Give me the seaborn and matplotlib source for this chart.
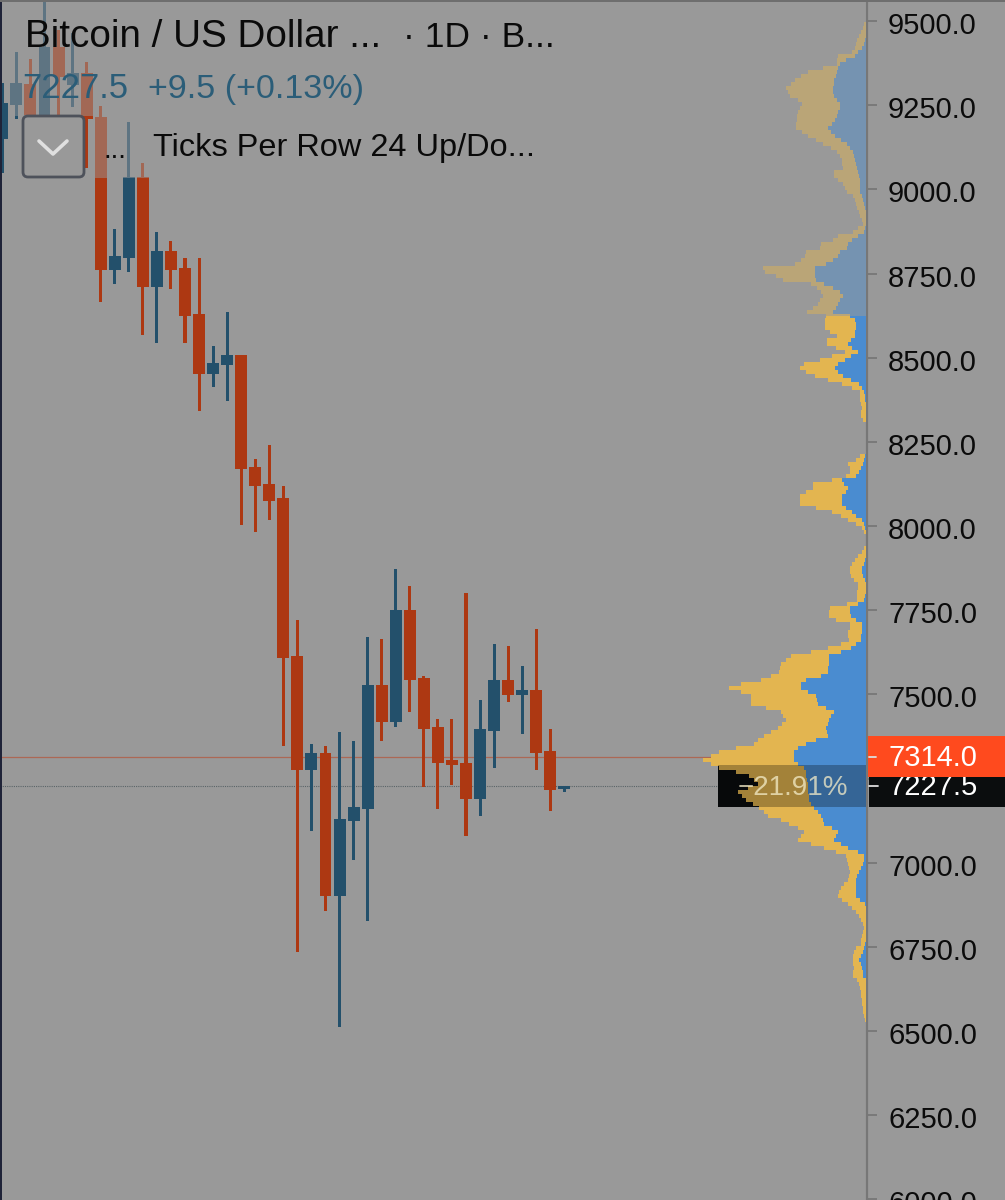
import numpy as np
import pandas as pd
import seaborn as sns
import matplotlib.pyplot as plt
from matplotlib.patches import FancyBboxPatch, Rectangle
from matplotlib.transforms import ScaledTranslation

# daily candles, first one is cut by the left edge
opens = [9150, 9251, 9313, 9221, 9424, 9310, 9346, 9215, 8760, 8796, 9037, 8710, 8816, 8766, 8630, 8451, 8478, 8508, 8176, 8125, 8083,
         7614, 7276, 7325, 6901, 7124, 7160, 7528, 7418, 7751, 7549, 7403, 7305, 7297, 7190, 7391, 7543, 7498, 7513, 7331, 7218]
highs = [9316, 9409, 9388, 9562, 9474, 9465, 9379, 9248, 8882, 9200, 9078, 8873, 8846, 8796, 8796, 8535, 8636, 8508, 8199, 8241, 8119,
         7721, 7352, 7346, 7388, 7361, 7671, 7665, 7873, 7822, 7555, 7427, 7427, 7802, 7483, 7650, 7644, 7584, 7694, 7397, 7227.5]
lows = [9049, 9209, 9221, 9221, 9221, 9245, 9063, 8666, 8719, 8755, 8567, 8544, 8704, 8544, 8341, 8413, 8371, 8003, 7982, 8018, 7346,
        6735, 7094, 6857, 6512, 7008, 6826, 7361, 7403, 7448, 7225, 7160, 7231, 7080, 7139, 7282, 7477, 7382, 7276, 7154, 7211]
closes = [9256, 9316, 9221, 9424, 9334, 9346, 9209, 8760, 8802, 9037, 8710, 8816, 8760, 8624, 8451, 8484, 8508, 8170, 8119, 8074, 7608,
          7276, 7325, 6901, 7130, 7166, 7528, 7418, 7751, 7543, 7397, 7297, 7291, 7190, 7397, 7543, 7498, 7513, 7325, 7216, 7227.5]

# volume profile, top row first (arbitrary units)
vp_total = [2, 3, 5, 7, 9, 10, 11, 14, 28, 29,
            29, 43, 58, 65, 71, 75, 80, 78, 76, 68,
            64, 66, 68, 69, 69, 70, 70, 64, 58, 50,
            43, 35, 29, 26, 24, 24, 23, 32, 32, 28,
            23, 21, 19, 13, 11, 10, 9, 7, 6, 4,
            3, 8, 13, 28, 33, 45, 46, 60, 61, 65,
            71, 103, 101, 90, 83, 55, 49, 45, 43, 46,
            48, 53, 59, 40, 41, 41, 41, 36, 29, 39,
            39, 30, 21, 34, 46, 62, 66, 60, 51, 38,
            24, 14, 6, 6, 6, 5, 4, 5, 5, 3,
            0, 0, 0, 0, 0, 0, 0, 0, 6, 10,
            18, 16, 16, 20, 34, 53, 53, 60, 66, 66,
            66, 50, 34, 25, 18, 10, 4, 2, 0, 0,
            0, 2, 4, 8, 11, 14, 16, 16, 15, 12,
            8, 8, 9, 9, 9, 19, 36, 37, 37, 30,
            16, 16, 18, 18, 17, 25, 38, 55, 75, 80,
            85, 86, 87, 95, 105, 125, 137, 125, 115, 115,
            115, 100, 85, 83, 80, 84, 88, 95, 102, 108,
            112, 130, 147, 155, 163, 155, 147, 130, 117, 112,
            108, 118, 128, 124, 120, 113, 107, 102, 98, 85,
            77, 68, 62, 65, 68, 55, 42, 30, 20, 19,
            18, 17, 16, 17, 18, 22, 25, 27, 28, 24,
            18, 14, 10, 7, 5, 3, 2, 3, 4, 5,
            5, 10, 12, 13, 13, 13, 12, 13, 13, 9,
            7, 6, 5, 5, 4, 4, 3, 3, 2, 1]
vp_up = [0, 0, 0, 0, 1, 2, 4, 8, 11, 20,
         26, 28, 29, 30, 32, 32, 33, 33, 32, 29,
         26, 26, 28, 29, 31, 34, 38, 35, 31, 25,
         19, 16, 13, 12, 11, 10, 9, 8, 7, 6,
         6, 6, 6, 4, 3, 2, 1, 0, 0, 0,
         0, 1, 2, 8, 14, 18, 19, 26, 28, 33,
         40, 51, 51, 51, 50, 42, 33, 26, 23, 26,
         28, 30, 33, 16, 11, 10, 10, 11, 11, 15,
         18, 14, 8, 15, 21, 28, 31, 28, 23, 15,
         7, 4, 2, 1, 1, 0, 0, 0, 0, 0,
         0, 0, 0, 0, 0, 0, 0, 0, 1, 2,
         3, 5, 7, 10, 24, 22, 18, 20, 24, 24,
         24, 20, 14, 10, 4, 2, 1, 0, 0, 0,
         0, 0, 0, 0, 1, 2, 4, 4, 3, 1,
         0, 0, 0, 1, 2, 8, 16, 16, 15, 10,
         4, 4, 4, 5, 5, 10, 15, 25, 37, 37,
         37, 38, 38, 45, 60, 65, 65, 58, 50, 49,
         48, 40, 32, 35, 37, 38, 40, 39, 38, 50,
         60, 68, 72, 72, 72, 68, 62, 60, 60, 59,
         58, 58, 58, 57, 57, 55, 52, 48, 45, 43,
         42, 34, 28, 30, 32, 25, 18, 8, 2, 2,
         3, 5, 7, 9, 10, 10, 10, 10, 10, 6,
         1, 0, 0, 0, 0, 0, 0, 0, 0, 0,
         1, 2, 3, 5, 7, 5, 4, 3, 3, 0,
         0, 0, 0, 0, 0, 0, 0, 0, 0, 0]

price_ticks = [9500, 9250, 9000, 8750, 8500, 8250, 8000, 7750, 7500, 7250, 7000, 6750, 6500, 6250, 6000]
tick_labels = ['9500.0', '9250.0', '9000.0', '8750.0', '8500.0', '8250.0', '8000.0', '7750.0', '7500.0', '', '7000.0', '6750.0',
               '6500.0', '6250.0', '6000.0']
last_price = 7227.5
poc_price = 7314.0

BG = '#999999'
RED = '#ad3812'
BLUE = '#23506b'
YELLOW = '#e3b550'
VP_BLUE = '#4a8cd0'
PRICE_TOP = 9562.4
PRICE_BOTTOM = 5998.4

sns.set_theme(style='white')
plt.rcParams['font.family'] = ['Liberation Sans', 'DejaVu Sans']

df = pd.DataFrame({'idx': np.arange(len(opens)), 'open': opens, 'high': highs, 'low': lows, 'close': closes})
df['body_low'] = df[['open', 'close']].min(axis=1)
df['body'] = (df['close'] - df['open']).abs()
df['wick'] = df['high'] - df['low']
df['up'] = df['close'] >= df['open']

fig = plt.figure(figsize=(10.05, 12), dpi=100, facecolor=BG)

# price chart, x is candle number: px = 2.35 + 14.05 * idx
ax = fig.add_axes([0, 0, 867 / 1005, 1], facecolor=BG)
ax.axhline(poc_price, color='#b0604a', lw=0.9, alpha=0.85, zorder=0)
ax.axhline(last_price, color='#5a6468', lw=0.8, ls=(0, (1, 1)), zorder=0)
for is_up, color in [(True, BLUE), (False, RED)]:
    sub = df[df['up'] == is_up]
    sns.barplot(x=sub['idx'], y=sub['wick'], bottom=sub['low'].values, native_scale=True, width=0.22, color=color,
                saturation=1, errorbar=None, linewidth=0, ax=ax)
    sns.barplot(x=sub['idx'], y=sub['body'], bottom=sub['body_low'].values, native_scale=True, width=0.85, color=color,
                saturation=1, errorbar=None, linewidth=0, ax=ax)

ax.set_xlim(-2.35 / 14.05, (867 - 2.35) / 14.05)
ax.set_ylim(PRICE_BOTTOM, PRICE_TOP)
ax.set_xticks([])
ax.set_xlabel('')
ax.set_ylabel('')
ax.yaxis.tick_right()
ax.set_yticks(price_ticks)
ax.set_yticklabels(tick_labels, fontsize=21, color='#0b0b0b')
ax.tick_params(axis='y', length=7.2, width=1.3, color='#777777', pad=8, right=True)
# labels sit a little below their ticks
label_shift = ScaledTranslation(0, -2 / 100, fig.dpi_scale_trans)
for label in ax.get_yticklabels():
    label.set_transform(label.get_transform() + label_shift)
for side in ['top', 'left', 'bottom']:
    ax.spines[side].set_visible(False)
ax.spines['right'].set_color('#777777')
ax.spines['right'].set_linewidth(1.6)

# volume profile, x in px from the axis
ax_vp = fig.add_axes([700 / 1005, 0, 166 / 1005, 1])
ax_vp.patch.set_alpha(0)
row_prices = 9491 - 11.88 * np.arange(len(vp_total))
sns.barplot(x=vp_total, y=row_prices, orient='y', native_scale=True, width=1.02, color=YELLOW, saturation=1, errorbar=None,
            linewidth=0, ax=ax_vp, zorder=2)
sns.barplot(x=vp_up, y=row_prices, orient='y', native_scale=True, width=1.02, color=VP_BLUE, saturation=1, errorbar=None,
            linewidth=0, ax=ax_vp, zorder=2)
ax_vp.set_xlim(166, 0)
ax_vp.set_ylim(PRICE_BOTTOM, PRICE_TOP)
ax_vp.axis('off')
# faded top part and dark band at last price
ax_vp.axhspan(8624, PRICE_TOP, color=BG, alpha=0.55, lw=0, zorder=5)
ax_vp.add_patch(Rectangle((0, 7165), 148, 125, color='#0b0d0e', lw=0, zorder=1))
ax_vp.add_patch(Rectangle((0, 7165), 148, 125, color='#000000', alpha=0.28, lw=0, zorder=3))

# everything of the app around the chart, in screen px
ui = fig.add_axes([0, 0, 1, 1])
ui.set_xlim(0, 1005)
ui.set_ylim(1200, 0)
ui.axis('off')
ui.patch.set_alpha(0)

ui.add_patch(Rectangle((10, 0), 550, 116, color=BG, alpha=0.5, lw=0))
ui.add_patch(Rectangle((94, 116), 60, 62, color=BG, alpha=0.5, lw=0))
ui.add_patch(Rectangle((0, 0), 2, 1200, color='#1f2338', lw=0))
ui.add_patch(Rectangle((0, 0), 1005, 2, color='#6e6e6e', lw=0))

ui.text(25, 47, 'Bitcoin / US Dollar ...', fontsize=27.8, color='#0a0a0a')
ui.text(403, 47, '\u00b7 1D \u00b7 B...', fontsize=25.5, color='#0a0a0a')
ui.text(22, 98, '7227.5', fontsize=25, color='#2b5d78')
ui.text(148, 98, '+9.5 (+0.13%)', fontsize=24.5, color='#2b5d78')
ui.text(153, 156, 'Ticks Per Row 24 Up/Do...', fontsize=23.4, color='#0a0a0a')
ui.text(104, 158, '...', fontsize=20, color='#0a0a0a')

ui.add_patch(FancyBboxPatch((23, 116), 61, 61, boxstyle='round,pad=0,rounding_size=5', fc=BG, ec='#4a4e58', lw=2, alpha=0.95))
ui.plot([39, 53, 67], [141, 154, 141], color='#e0e0e0', lw=2.6, solid_capstyle='round')

# price labels on the axis
ui.add_patch(Rectangle((869, 777), 136, 30, color='#0b0d0e', lw=0, zorder=3))
ui.text(888, 787, '7227.5', fontsize=21, color='white', va='center', zorder=4)
ui.plot([869, 878], [786, 786], color='#dddddd', lw=1.3, zorder=4)
ui.add_patch(Rectangle((868, 736), 137, 41, color='#ff4a1e', lw=0, zorder=5))
ui.text(888, 758, '7314.0', fontsize=21, color='white', va='center', zorder=6)
ui.plot([869, 876], [757, 757], color='#dddddd', lw=1.3, zorder=6)
ui.text(793, 788, '\u221221.91%', fontsize=20, color='#f4ecc8', alpha=0.75, ha='center', va='center', zorder=6)

fig.savefig('out.png', dpi=100, facecolor=BG)
